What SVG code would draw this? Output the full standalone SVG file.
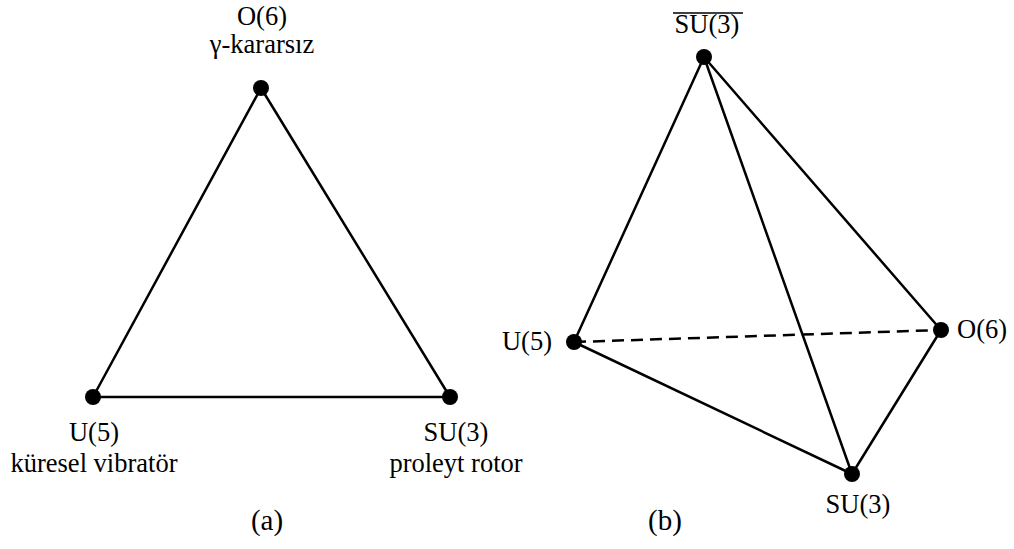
<svg xmlns="http://www.w3.org/2000/svg" width="1014" height="549" viewBox="0 0 1014 549">
<style>
.e{stroke:#000;stroke-width:2.5;fill:none;stroke-linecap:round}
.d{stroke-dasharray:12 7;stroke-linecap:butt}
.n{fill:#000}
.m{text-anchor:middle}
.s{text-anchor:end}
</style>
<rect width="1014" height="549" fill="#fff"/>
<g id="connectors">
<line class="e" x1="261" y1="88" x2="93" y2="397"/>
<line class="e" x1="261" y1="88" x2="450" y2="397"/>
<line class="e" x1="93" y1="397" x2="450" y2="397"/>
<line class="e" x1="704" y1="57" x2="574" y2="342"/>
<line class="e" x1="704" y1="57" x2="941" y2="330"/>
<line class="e" x1="704" y1="57" x2="852" y2="474"/>
<line class="e" x1="574" y1="342" x2="852" y2="474"/>
<line class="e" x1="941" y1="330" x2="852" y2="474"/>
<line class="e d" x1="574" y1="342" x2="941" y2="330"/>
</g>
<g font-family="'Liberation Serif', 'Times New Roman', 'DejaVu Serif', serif" font-size="26.5" fill="#000">
<g id="a-O6"><circle class="n" cx="261" cy="88" r="8"/><text class="m" x="262" y="25">O(6)</text><text class="m" x="262" y="53">γ-kararsız</text></g>
<g id="a-U5"><circle class="n" cx="93" cy="397" r="8"/><text class="m" x="94" y="441">U(5)</text><text class="m" x="94" y="472">küresel vibratör</text></g>
<g id="a-SU3"><circle class="n" cx="450" cy="397" r="8"/><text class="m" x="456" y="441">SU(3)</text><text class="m" x="456" y="472">proleyt rotor</text></g>
<text id="label-a" class="m" x="267" y="530" font-size="29">(a)</text>
<g id="b-SU3bar"><circle class="n" cx="704" cy="57" r="8"/><text class="m" x="707" y="33">SU(3)</text><line x1="673" y1="13" x2="743" y2="13" stroke="#000" stroke-width="1.4"/></g>
<g id="b-U5"><circle class="n" cx="574" cy="342" r="8"/><text class="s" x="552" y="350">U(5)</text></g>
<g id="b-O6"><circle class="n" cx="941" cy="330" r="8"/><text x="957" y="338">O(6)</text></g>
<g id="b-SU3"><circle class="n" cx="852" cy="474" r="8"/><text class="m" x="858" y="513">SU(3)</text></g>
<text id="label-b" class="m" x="665" y="530" font-size="29">(b)</text>
</g>
</svg>
